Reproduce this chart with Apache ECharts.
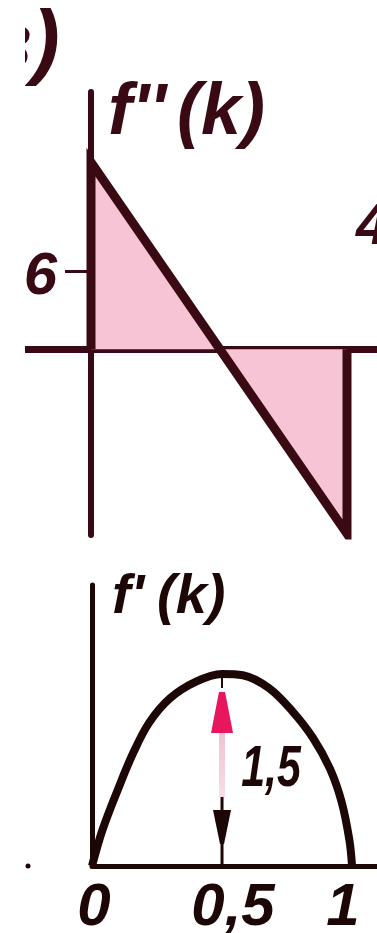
<!DOCTYPE html>
<html>
<head>
<meta charset="utf-8">
<script src="https://cdn.jsdelivr.net/npm/echarts@6/dist/echarts.min.js"></script>
<style>
  html, body { margin: 0; padding: 0; background: #ffffff; }
  #chart { width: 377px; height: 933px; }
</style>
</head>
<body>
<div id="chart"></div>
<script>
// f''(k): straight line from k = 0 to k = 1
const kLine = [0, 1];
const fppValues = [14.4, -14.2];
const fppTicks = [6];

// f'(k): arch through the maximum at k = 0.5
const kCurve = [0, 0.04, 0.1, 0.16, 0.22, 0.3, 0.4, 0.5, 0.58, 0.68, 0.77, 0.85, 0.915, 0.96, 0.99, 1];
const fpValues = [0, 0.28, 0.6, 0.89, 1.12, 1.31, 1.44, 1.5, 1.49, 1.39, 1.21, 1.0, 0.76, 0.5, 0.2, 0];

// k axis labels of the lower panel
const kTicks = [0, 0.5, 1];
const kTickText = ['0', '0,5', '1'];

// dimension arrow at the maximum of f'(k)
const peakK = 0.5;
const peakValue = 1.5;

const INK = '#3a0a14';
const INK2 = '#1c0606';
const NUM_FONT = "'Liberation Sans', 'DejaVu Sans', sans-serif";
const TITLE_FONT = "'Liberation Sans', 'DejaVu Sans', sans-serif";

const chart = echarts.init(document.getElementById('chart'), null, { renderer: 'canvas' });

const fppData = [
  [kLine[0], 0],
  [kLine[0], fppValues[0]],
  [kLine[1], fppValues[1]],
  [kLine[1], 0]
];
const fpData = kCurve.map((k, i) => [k, fpValues[i]]);

function arrowItem(params, api) {
  const top = api.coord([api.value(0), api.value(1)]);
  const base = api.coord([api.value(0), 0]);
  const x = top[0];
  const ty = top[1];
  return {
    type: 'group',
    children: [
      { type: 'line', shape: { x1: x, y1: ty + 4, x2: x, y2: ty + 14 },
        style: { stroke: INK2, lineWidth: 2 } },
      { type: 'polygon',
        shape: { points: [[x - 3, ty + 18], [x + 3, ty + 18], [x + 5, ty + 28], [x + 11, ty + 59], [x - 11, ty + 59], [x - 5, ty + 28]] },
        style: { fill: '#e8175d' } },
      { type: 'rect', shape: { x: x - 3, y: ty + 59, width: 6, height: 64 },
        style: { fill: new echarts.graphic.LinearGradient(0, 0, 0, 1, [
          { offset: 0, color: '#f1c2d3' }, { offset: 1, color: '#f7dde7' }]) } },
      { type: 'line', shape: { x1: x, y1: ty + 123, x2: x, y2: base[1] },
        style: { stroke: INK2, lineWidth: 3 } },
      { type: 'polygon',
        shape: { points: [[x - 9, ty + 136], [x + 9, ty + 136], [x + 2, ty + 170], [x - 2, ty + 170]] },
        style: { fill: INK2 } },
      // value label of the arrow, set in a narrowed face
      { type: 'text', x: x + 49, y: ty + 96, scaleX: 0.74, originX: 0, originY: 0,
        style: { text: String(peakValue).replace('.', ','), fill: INK2,
          font: "italic bold 58px " + NUM_FONT, align: 'center', verticalAlign: 'middle' } }
    ]
  };
}

const option = {
  backgroundColor: '#ffffff',
  animation: false,
  grid: [
    { left: 25, top: 92, width: 352, height: 443, containLabel: false, outerBoundsMode: 'none' },
    { left: 92, top: 585, width: 285, height: 281, containLabel: false, outerBoundsMode: 'none' }
  ],
  xAxis: [
    { type: 'value', gridIndex: 0, min: -0.2578, max: 1.1172,
      axisLine: { onZero: true, lineStyle: { color: INK, width: 7 } },
      axisTick: { show: false }, axisLabel: { show: false }, splitLine: { show: false } },
    { type: 'value', gridIndex: 1, min: 0, max: 1.096,
      axisLine: { onZero: true, lineStyle: { color: INK2, width: 5 } },
      axisTick: { show: false }, splitLine: { show: false },
      axisLabel: {
        customValues: kTicks,
        margin: 12,
        color: INK2,
        fontFamily: NUM_FONT, fontStyle: 'italic', fontWeight: 'bold', fontSize: 60, lineHeight: 60,
        formatter: v => {
          const i = kTicks.indexOf(v);
          return '{t' + i + '|' + kTickText[i] + '}';
        },
        rich: {
          t0: { padding: [0, 0, 0, 4] },
          t1: { padding: [0, 0, 0, 22] },
          t2: { padding: [0, 18, 0, 0] }
        }
      } }
  ],
  yAxis: [
    // the f'' axis stands at k = 0, i.e. 66 px inside the left edge of the grid
    { type: 'value', gridIndex: 0, min: -14.3, max: 19.8, position: 'left', offset: -66,
      axisLine: { onZero: false, lineStyle: { color: INK, width: 6 } },
      axisTick: { show: true, customValues: fppTicks, length: 26, lineStyle: { color: INK, width: 3 } },
      axisLabel: { customValues: fppTicks, margin: 34, color: INK,
        fontFamily: NUM_FONT, fontStyle: 'italic', fontWeight: 'bold', fontSize: 60, lineHeight: 60,
        verticalAlign: 'top', padding: [-24, 0, 0, 0] },
      splitLine: { show: false } },
    { type: 'value', gridIndex: 1, min: 0, max: 2.195,
      axisLine: { onZero: true, lineStyle: { color: INK2, width: 5 } },
      axisTick: { show: false }, axisLabel: { show: false }, splitLine: { show: false } }
  ],
  series: [
    { type: 'line', xAxisIndex: 0, yAxisIndex: 0, data: fppData, symbol: 'none',
      lineStyle: { color: INK, width: 9, join: 'miter' },
      areaStyle: { color: '#f6c4d4', opacity: 1, origin: 0 }, z: 3 },
    { type: 'line', xAxisIndex: 1, yAxisIndex: 1, data: fpData, symbol: 'none', smooth: 0.35,
      lineStyle: { color: INK2, width: 8 }, z: 3 },
    { type: 'custom', xAxisIndex: 1, yAxisIndex: 1, data: [[peakK, peakValue]],
      renderItem: arrowItem, z: 4 }
  ],
  graphic: [
    { type: 'text', x: -19, y: 4, z: 10,
      style: { text: 'в)', fill: INK, font: "italic bold 84px " + TITLE_FONT } },
    { type: 'rect', shape: { x: 0, y: 0, width: 25, height: 933 }, z: 20,
      style: { fill: '#ffffff' } },
    { type: 'text', x: 108, y: 114, z: 10,
      style: { text: "f''", fill: INK, font: "italic bold 72px " + TITLE_FONT, verticalAlign: 'middle' } },
    { type: 'text', x: 177, y: 114, z: 10,
      style: { text: "(k)", fill: INK, font: "italic bold 72px " + TITLE_FONT, verticalAlign: 'middle' } },
    { type: 'text', x: 112, y: 598, z: 10,
      style: { text: "f'", fill: INK2, font: "italic bold 56px " + TITLE_FONT, verticalAlign: 'middle' } },
    { type: 'text', x: 157, y: 598, z: 10,
      style: { text: "(k)", fill: INK2, font: "italic bold 56px " + TITLE_FONT, verticalAlign: 'middle' } },
    { type: 'text', x: 356, y: 228, z: 10,
      style: { text: '4', fill: INK, font: "italic bold 58px " + NUM_FONT, verticalAlign: 'middle' } },
    { type: 'circle', shape: { cx: 28, cy: 866, r: 2.5 }, z: 21, style: { fill: INK2 } }
  ]
};

chart.setOption(option);
</script>
</body>
</html>
